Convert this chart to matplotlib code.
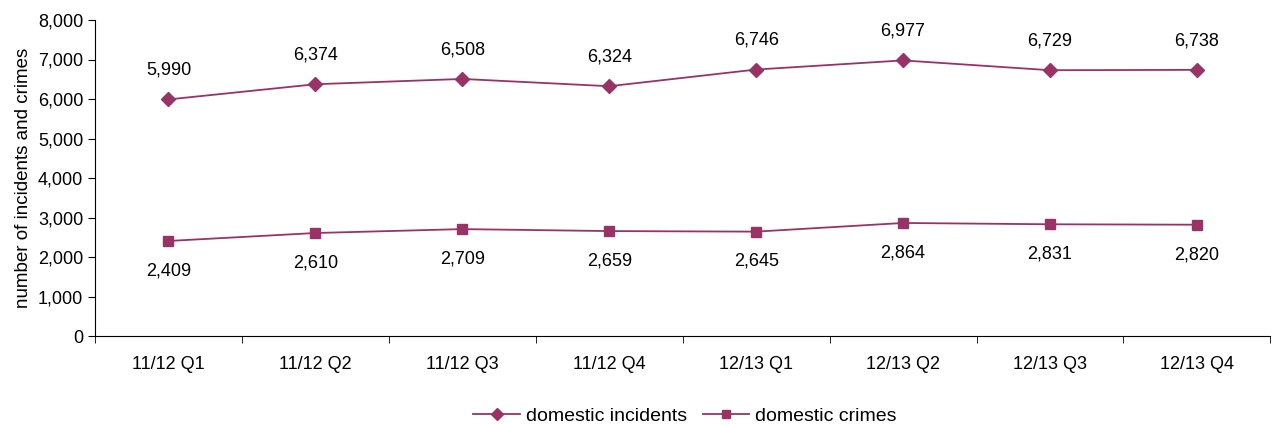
import matplotlib
matplotlib.use("Agg")
import matplotlib.pyplot as plt
import numpy as np

plt.rcParams['font.family'] = ['Liberation Sans', 'DejaVu Sans']

quarters = ["11/12 Q1", "11/12 Q2", "11/12 Q3", "11/12 Q4",
            "12/13 Q1", "12/13 Q2", "12/13 Q3", "12/13 Q4"]
incidents = [5990, 6374, 6508, 6324, 6746, 6977, 6729, 6738]
crimes = [2409, 2610, 2709, 2659, 2645, 2864, 2831, 2820]

color = "#993366"
x = np.arange(len(quarters))

fig = plt.figure(figsize=(12.72, 4.25), dpi=100)
ax = fig.add_axes([0.0747, 0.209, 0.924, 0.744])

ax.plot(x, incidents, color=color, lw=1.3, marker="D", ms=7, label="domestic incidents")
ax.plot(x, crimes, color=color, lw=1.3, marker="s", ms=7, label="domestic crimes")

for i in range(len(x)):
    ax.annotate(f"{incidents[i]:,}", (x[i], incidents[i]), xytext=(0, 21),
                textcoords="offset points", ha="center", va="center", fontsize=13)
    ax.annotate(f"{crimes[i]:,}", (x[i], crimes[i]), xytext=(0, -21.5),
                textcoords="offset points", ha="center", va="center", fontsize=13)

ax.set_xlim(-0.5, len(x) - 0.5)
ax.set_ylim(0, 8000)
ax.set_yticks(np.arange(0, 8001, 1000))
ax.yaxis.set_major_formatter(matplotlib.ticker.FuncFormatter(lambda v, p: f"{int(v):,}"))
ax.set_xticks(x)
ax.set_xticklabels(quarters)
ax.set_xticks(np.arange(-0.5, len(x)), minor=True)
ax.tick_params(axis="x", which="major", length=0, pad=14, labelsize=13)
ax.tick_params(axis="x", which="minor", length=5, direction="out")
ax.tick_params(axis="y", length=5, labelsize=13)
ax.set_ylabel("number of incidents and crimes", fontsize=13.5, labelpad=4)

for s in ["top", "right"]:
    ax.spines[s].set_visible(False)

fig.legend(*ax.get_legend_handles_labels(), loc="center",
           bbox_to_anchor=(685 / 1272, 1 - 416 / 425), ncol=2, frameon=False,
           fontsize=14, handlelength=2.4, columnspacing=0.8, handletextpad=0.3,
           markerscale=0.85)

fig.savefig("out.png", dpi=100)
